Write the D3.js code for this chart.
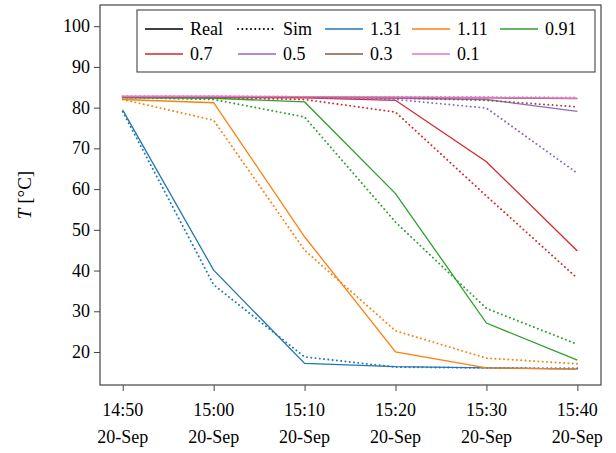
<!DOCTYPE html>
<html>
<head>
<meta charset="utf-8">
<script src="https://cdn.jsdelivr.net/npm/d3@7"></script>
</head>
<body style="margin:0">
<svg id="chart" width="616" height="453" font-family="Liberation Serif"></svg>
<script>
// Sample times (20 Sep)
const times = ["14:50", "15:00", "15:10", "15:20", "15:30", "15:40"];
const flows = ["1.31", "1.11", "0.91", "0.7", "0.5", "0.3", "0.1"];
const colors = ["#1f77b4", "#ff7f0e", "#2ca02c", "#d62728", "#9467bd", "#8c564b", "#e377c2"];

// measured temperatures per flow
const real131 = [79.4, 40.1, 17.2, 16.4, 16.1, 15.8];
const real111 = [82.0, 81.2, 48.3, 20.0, 16.1, 15.8];
const real091 = [82.4, 82.3, 81.4, 58.9, 27.1, 18.0];
const real07  = [82.5, 82.5, 82.4, 81.8, 66.7, 44.8];
const real05  = [82.6, 82.6, 82.5, 82.3, 82.0, 79.1];
const real03  = [82.7, 82.7, 82.6, 82.5, 82.4, 82.2];
const real01  = [82.8, 82.8, 82.7, 82.6, 82.5, 82.3];

// simulated temperatures per flow
const sim131 = [79.0, 36.5, 18.8, 16.3, 16.1, 16.0];
const sim111 = [82.0, 76.9, 45.0, 25.2, 18.5, 17.1];
const sim091 = [82.5, 82.0, 77.7, 51.9, 30.7, 21.9];
const sim07  = [82.6, 82.5, 82.0, 78.9, 58.3, 38.1];
const sim05  = [82.6, 82.6, 82.5, 82.0, 79.9, 63.9];
const sim03  = [82.7, 82.7, 82.6, 82.4, 81.8, 80.2];
const sim01  = [82.8, 82.8, 82.7, 82.7, 82.6, 82.5];

const realSeries = [real131, real111, real091, real07, real05, real03, real01];
const simSeries = [sim131, sim111, sim091, sim07, sim05, sim03, sim01];

const yTicks = [20, 30, 40, 50, 60, 70, 80, 90, 100];

const W = 616, H = 453;
const margin = { left: 100, right: 15, top: 5, bottom: 68 };
const FONT = "Liberation Serif";

const svg = d3.select("#chart");

const parse = d3.timeParse("%Y-%m-%d %H:%M");
const dates = times.map(t => parse("2023-09-20 " + t));

const x = d3.scaleTime()
  .domain([d3.timeSecond.offset(dates[0], -150), d3.timeSecond.offset(dates[dates.length - 1], 156)])
  .range([margin.left, W - margin.right]);

const y = d3.scaleLinear()
  .domain([11.9, 105.2])
  .range([H - margin.bottom, margin.top]);

const frameColor = "#444";

// y axis: only tick lines from d3.axis, labels drawn as plain text
const yAxis = svg.append("g")
  .attr("transform", `translate(${margin.left},0)`)
  .call(d3.axisLeft(y).tickValues(yTicks).tickSize(6).tickFormat(""));
yAxis.attr("font-family", null).attr("font-size", null);
yAxis.select(".domain").remove();
yAxis.selectAll(".tick text").remove();
yAxis.selectAll("line").attr("stroke", frameColor);

svg.append("g").selectAll("text")
  .data(yTicks)
  .join("text")
  .attr("x", margin.left - 10)
  .attr("y", d => y(d) + 6)
  .attr("text-anchor", "end")
  .attr("font-family", FONT)
  .attr("font-size", 18)
  .attr("fill", "#000")
  .text(d => d);

// x axis
const xAxis = svg.append("g")
  .attr("transform", `translate(0,${H - margin.bottom})`)
  .call(d3.axisBottom(x).tickValues(dates).tickSize(6).tickFormat(""));
xAxis.attr("font-family", null).attr("font-size", null);
xAxis.select(".domain").remove();
xAxis.selectAll(".tick text").remove();
xAxis.selectAll("line").attr("stroke", frameColor);

const xLabels = svg.append("g");
dates.forEach((d, i) => {
  xLabels.append("text")
    .attr("x", x(d)).attr("y", H - margin.bottom + 31)
    .attr("text-anchor", "middle")
    .attr("font-family", FONT).attr("font-size", 18)
    .text(times[i]);
  xLabels.append("text")
    .attr("x", x(d)).attr("y", H - margin.bottom + 58)
    .attr("text-anchor", "middle")
    .attr("font-family", FONT).attr("font-size", 18)
    .text("20-Sep");
});

// frame
svg.append("rect")
  .attr("x", margin.left).attr("y", margin.top)
  .attr("width", W - margin.left - margin.right)
  .attr("height", H - margin.top - margin.bottom)
  .attr("fill", "none").attr("stroke", frameColor).attr("stroke-width", 1.2);

// y label
const yl = svg.append("text")
  .attr("transform", `translate(31,${(margin.top + H - margin.bottom) / 2}) rotate(-90)`)
  .attr("text-anchor", "middle")
  .attr("font-family", FONT)
  .attr("font-size", 19);
yl.append("tspan").attr("font-style", "italic").text("T");
yl.append("tspan").text(" [°C]");

const line = d3.line()
  .x((d, i) => x(dates[i]))
  .y(d => y(d));

const plot = svg.append("g");
flows.forEach((f, k) => {
  plot.append("path")
    .attr("d", line(realSeries[k]))
    .attr("fill", "none")
    .attr("stroke", colors[k])
    .attr("stroke-width", 1.3);
  plot.append("path")
    .attr("d", line(simSeries[k]))
    .attr("fill", "none")
    .attr("stroke", colors[k])
    .attr("stroke-width", 1.9)
    .attr("stroke-linecap", "round")
    .attr("stroke-dasharray", "0.1 4.2");
});

// legend
const legend = svg.append("g");
legend.append("rect")
  .attr("x", 137).attr("y", 10).attr("width", 458).attr("height", 62)
  .attr("fill", "#fff").attr("stroke", frameColor).attr("stroke-width", 1.1);

const legendItems = [
  { label: "Real", color: "#000", dash: null },
  { label: "Sim", color: "#000", dash: "0.1 4.2" }
].concat(flows.map((f, k) => ({ label: f, color: colors[k], dash: null })));

const colX = [145, 238, 325, 412, 500];
legendItems.forEach((d, i) => {
  const row = i < 5 ? 0 : 1;
  const col = i < 5 ? i : i - 5;
  const cy = row === 0 ? 29 : 54;
  const lx = colX[col];
  legend.append("line")
    .attr("x1", lx).attr("x2", lx + 38)
    .attr("y1", cy).attr("y2", cy)
    .attr("stroke", d.color)
    .attr("stroke-width", d.dash ? 1.9 : 1.3)
    .attr("stroke-linecap", d.dash ? "round" : "butt")
    .attr("stroke-dasharray", d.dash);
  legend.append("text")
    .attr("x", lx + 45).attr("y", cy + 6)
    .attr("font-family", FONT).attr("font-size", 18)
    .text(d.label);
});
</script>
</body>
</html>
